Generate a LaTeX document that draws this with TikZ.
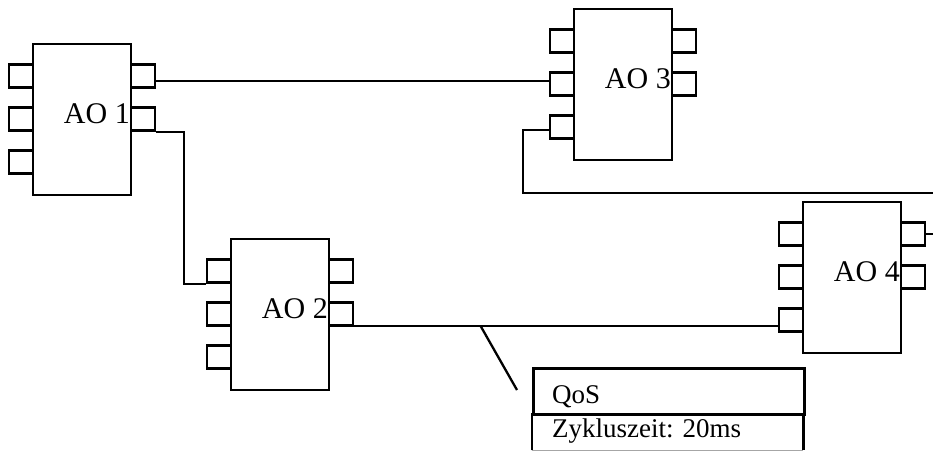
\documentclass[tikz,border=0pt]{standalone}
\usepackage{fontspec}
\setmainfont{Liberation Serif}
\usetikzlibrary{calc}
\tikzset{
  aobox/.style={draw, line width=2.8pt, minimum width=98pt, minimum height=151pt, inner sep=0pt, fill=white},
  port/.style={draw, line width=2.5pt, minimum width=24pt, minimum height=23pt, inner sep=0pt, fill=white},
  aolabel/.style={anchor=base east, inner sep=0pt, font=\fontsize{30}{34}\selectfont},
  wire/.style={line width=2.3pt},
  qostext/.style={anchor=base west, inner sep=0pt, font=\fontsize{27}{30}\selectfont},
}
\newcommand{\aoblk}[4]{%
  \node[aobox] (#1) at (#2+49,#3+75.5) {};
  \node[port] (#1l1) at (#2-12,#3+32) {};
  \node[port] (#1l2) at (#2-12,#3+75) {};
  \node[port] (#1l3) at (#2-12,#3+118) {};
  \node[port] (#1r1) at (#2+110,#3+32) {};
  \node[port] (#1r2) at (#2+110,#3+75) {};
  \node[aolabel] (#1t) at (#2+97,#3+79) {#4};
}
\begin{document}
\begin{tikzpicture}[x=1pt,y=-1pt]
\useasboundingbox[fill=white] (0,0) rectangle (933,451);
\aoblk{a1}{33}{44}{AO 1}
\aoblk{a2}{231}{239}{AO 2}
\aoblk{a3}{574}{9}{AO 3}
\aoblk{a4}{803}{202}{AO 4}
% connectors
\coordinate (c1) at ([yshift=-5pt]a1r1.east);
\draw[wire] (c1) -- (c1 -| a3l2.west);
\draw[wire] (a1r2.south east) -- ++(28,0) |- (a2l1.south west);
\coordinate (c2) at ([yshift=1pt]a2r2.south east);
\draw[wire] (c2) -- coordinate[pos=0.298] (tap) (c2 -| a4l3.west);
\coordinate (c3) at ([yshift=-3pt]a3l3.west);
\coordinate (e1) at (933,193);
\draw[wire] (c3) -- ++(-26,0) |- (e1);
\coordinate (e2) at (933,0);
\draw[wire] (a4r1.east) -- (a4r1.east -| e2);
% QoS
\coordinate (tip) at (517,390);
\draw[wire] (tap) -- (tip);
\node[draw, line width=2.5pt, anchor=north west, minimum width=271pt, minimum height=46pt, inner sep=0pt] (q1) at (532,367) {};
\node[anchor=north west, minimum width=271pt, minimum height=37pt, inner sep=0pt] (q2) at (532,413) {};
\draw[line width=2.5pt] (q2.south west) -- (q2.north west);
\draw[line width=2.5pt] (q2.north east) -- (q2.south east);
\draw[gray!70, line width=1pt] (q2.south west) -- (q2.south east);
\node[qostext] (qt1) at (552,403) {QoS};
\node[qostext] (qt2) at (552,437) {Zykluszeit: 20ms};
\end{tikzpicture}
\end{document}
